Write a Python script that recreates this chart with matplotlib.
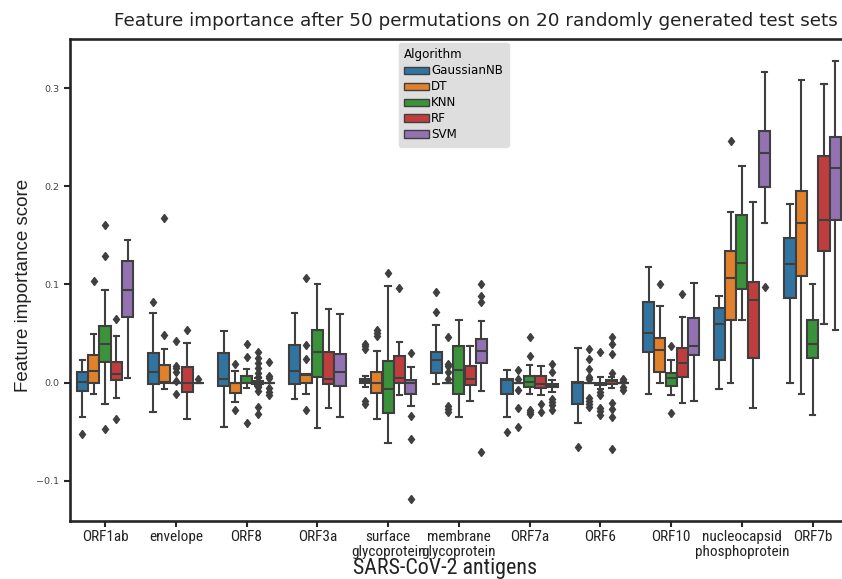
import matplotlib
matplotlib.use("Agg")
import matplotlib.pyplot as plt
from matplotlib import font_manager
from matplotlib.patches import Patch

antigens = ["ORF1ab", "envelope", "ORF8", "ORF3a", "surface\nglycoprotein",
            "membrane\nglycoprotein", "ORF7a", "ORF6", "ORF10",
            "nucleocapsid\nphosphoprotein", "ORF7b"]
algorithms = ["GaussianNB", "DT", "KNN", "RF", "SVM"]
colors = ["#3274a1", "#e1812c", "#3a923a", "#c03d3e", "#9372b2"]

# rows = antigens, columns = algorithms
whisker_low = [
    [-0.035, -0.011, -0.022, -0.016, 0.005],
    [-0.030, -0.006, 0.0, -0.037, 0.0],
    [-0.045, -0.020, -0.005, -0.003, 0.0],
    [-0.017, -0.012, -0.046, -0.026, -0.035],
    [-0.0045, -0.037, -0.061, -0.013, -0.024],
    [-0.0013, 0.0, -0.035, -0.019, -0.008],
    [-0.035, 0.0, -0.011, -0.0125, -0.0095],
    [-0.041, 0.0, -0.006, -0.0057, 0.0],
    [-0.012, 0.0, -0.0125, -0.021, -0.019],
    [-0.006, 0.0, 0.064, -0.026, 0.163],
    [0.0, -0.0115, -0.033, 0.060, 0.054],
]
q1 = [
    [-0.008, 0.0, 0.021, 0.003, 0.067],
    [-0.001, 0.0, 0.0, -0.009, 0.0],
    [-0.003, -0.010, 0.0, -0.0013, 0.0],
    [-0.001, 0.0, 0.0055, -0.001, -0.003],
    [-0.0006, -0.010, -0.031, -0.0006, -0.012],
    [0.010, 0.0, -0.012, -0.002, 0.020],
    [-0.012, 0.0, -0.0047, -0.005, -0.0047],
    [-0.022, 0.0, -0.0027, -0.0013, 0.0],
    [0.0315, 0.011, -0.003, 0.0055, 0.028],
    [0.023, 0.0635, 0.095, 0.025, 0.199],
    [0.086, 0.109, 0.025, 0.134, 0.166],
]
medians = [
    [0.001, 0.012, 0.039, 0.009, 0.094],
    [0.011, 0.001, 0.0, 0.0, 0.0],
    [0.0035, 0.0, 0.0, 0.0007, 0.0],
    [0.012, 0.008, 0.031, 0.0035, 0.011],
    [0.0017, 0.0, -0.006, 0.0045, 0.0],
    [0.023, 0.0, 0.0125, 0.0035, 0.032],
    [0.0025, 0.0, 0.0007, -0.001, -0.0023],
    [0.0, 0.0, -0.0013, 0.0017, 0.0],
    [0.051, 0.033, 0.0045, 0.020, 0.037],
    [0.060, 0.1065, 0.1215, 0.084, 0.2334],
    [0.121, 0.163, 0.039, 0.1655, 0.219],
]
q3 = [
    [0.011, 0.028, 0.058, 0.021, 0.124],
    [0.030, 0.018, 0.0, 0.016, 0.0],
    [0.030, 0.0, 0.0065, 0.002, 0.0],
    [0.038, 0.0085, 0.054, 0.031, 0.029],
    [0.0038, 0.011, 0.022, 0.027, 0.0027],
    [0.031, 0.0, 0.037, 0.017, 0.045],
    [0.004, 0.0, 0.007, 0.0065, -0.001],
    [0.001, 0.0, 0.0, 0.0027, 0.0],
    [0.082, 0.046, 0.010, 0.035, 0.066],
    [0.076, 0.134, 0.171, 0.103, 0.256],
    [0.147, 0.195, 0.064, 0.231, 0.250],
]
whisker_high = [
    [0.023, 0.050, 0.094, 0.048, 0.145],
    [0.071, 0.034, 0.0, 0.040, 0.0],
    [0.053, 0.012, 0.014, 0.005, 0.0],
    [0.071, 0.0085, 0.100, 0.075, 0.070],
    [0.007, 0.032, 0.098, 0.041, 0.016],
    [0.059, 0.0, 0.064, 0.037, 0.063],
    [0.0125, 0.0, 0.018, 0.017, 0.0027],
    [0.035, 0.0, 0.0058, 0.006, 0.0],
    [0.118, 0.078, 0.023, 0.067, 0.102],
    [0.088, 0.174, 0.221, 0.184, 0.316],
    [0.182, 0.308, 0.100, 0.304, 0.328],
]
outliers = [
    [[-0.052], [0.104], [0.161, 0.129, -0.047], [0.065, -0.037], []],
    [[0.082], [0.168, 0.049], [0.042, 0.017, 0.0145, 0.011, 0.002, -0.012], [0.054], [0.004]],
    [[], [0.019, -0.028], [0.039, 0.026, -0.041],
     [0.031, 0.0255, 0.020, 0.015, 0.010, 0.006, -0.004, -0.008, -0.025, -0.032],
     [0.021, 0.007, 0.0045, -0.005, -0.009, -0.013]],
    [[], [0.107, 0.038, 0.024, -0.028], [], [], []],
    [[0.039, 0.037, 0.034, -0.019, -0.022], [0.054, 0.051, 0.0475], [0.112], [0.096],
     [0.030, -0.034, -0.057, -0.118]],
    [[0.092, 0.072], [0.047, 0.019, 0.017, 0.011, 0.004, -0.024, -0.027, -0.030], [], [],
     [0.100, 0.0885, 0.082, -0.071]],
    [[-0.050], [0.0125, 0.0035, -0.007, -0.026, -0.045], [0.0465, 0.027, -0.028, -0.030, -0.032],
     [-0.022, -0.030], [0.019, 0.0106, -0.017, -0.0196, -0.0224, -0.0275]],
    [[-0.065], [0.034, 0.024, 0.014, 0.006, 0.0035, -0.0156, -0.0186, -0.0214, -0.0244],
     [0.031, -0.0098, -0.0125, -0.026, -0.029, -0.0325],
     [0.047, 0.039, 0.0295, 0.010, -0.021, -0.027, -0.035, -0.067],
     [0.004, 0.0014, -0.0047, -0.0074]],
    [[], [0.101], [0.037, -0.031], [0.090], []],
    [[], [0.2466], [], [], [0.097]],
    [[], [], [], [], []],
]

# the x axis texts of the original are in a condensed face
installed = {f.name for f in font_manager.fontManager.ttflist}
narrow, tick_size, xlabel_size = "Liberation Sans", 10.2, 14.5
for name, ts, xs in [("Liberation Sans Narrow", 12.0, 16.0), ("Roboto Condensed", 11.0, 15.8),
                     ("Open Sans Condensed", 11.0, 15.8)]:
    if name in installed:
        narrow, tick_size, xlabel_size = name, ts, xs
        break

gray = "#3f3f3f"
fig = plt.figure(figsize=(8.42, 5.79), dpi=100)
# axes run past the right edge, like the cropped original
ax = fig.add_axes([0.0827, 0.1007, 0.9245, 0.832])

n_hue = len(algorithms)
box_w = 0.8 / n_hue
for j, algo in enumerate(algorithms):
    stats = []
    for i in range(len(antigens)):
        stats.append(dict(whislo=whisker_low[i][j], q1=q1[i][j], med=medians[i][j],
                          q3=q3[i][j], whishi=whisker_high[i][j], fliers=outliers[i][j]))
    pos = [i - 0.4 + box_w * (j + 0.5) for i in range(len(antigens))]
    ax.bxp(stats, positions=pos, widths=box_w * 0.98, patch_artist=True,
           manage_ticks=False,
           boxprops=dict(facecolor=colors[j], edgecolor=gray, linewidth=1.5),
           medianprops=dict(color=gray, linewidth=1.5),
           whiskerprops=dict(color=gray, linewidth=1.5),
           capprops=dict(color=gray, linewidth=1.5),
           flierprops=dict(marker="d", markerfacecolor=gray, markeredgecolor=gray,
                           markersize=4.5, linestyle="none"))

ax.set_xlim(-0.5, len(antigens) - 0.5)
ax.set_ylim(-0.1405, 0.35)
ax.set_xticks(range(len(antigens)))
ax.set_xticklabels(antigens, fontfamily=narrow, fontsize=tick_size, color="#222222",
                   linespacing=1.05)
ax.set_yticks([-0.1, 0.0, 0.1, 0.2, 0.3])
ax.tick_params(axis="y", labelsize=6.8, labelcolor="#444444", length=4, width=1.5, color="#262626")
ax.tick_params(axis="x", length=4, width=1.5, color="#262626", pad=3)
for s in ax.spines.values():
    s.set_linewidth(1.9)
    s.set_color("#262626")

ax.set_xlabel("SARS-CoV-2 antigens", fontfamily=narrow, fontsize=xlabel_size, color="#222222")
ax.xaxis.set_label_coords(0.482, -0.0765)
ax.set_ylabel("Feature importance score", fontfamily="Liberation Sans", fontsize=13.5, color="#222222")
ax.yaxis.set_label_coords(-0.048, 0.489)

fig.text(476 / 842, 1 - 21 / 579,
         "Feature importance after 50 permutations on 20 randomly generated test sets",
         ha="center", va="center", fontsize=13.25, color="#222222")

handles = [Patch(facecolor=c, edgecolor=gray, linewidth=1) for c in colors]
leg = ax.legend(handles, algorithms, title="Algorithm", loc="upper left",
                bbox_to_anchor=(399 / 842, 1 - 43 / 579), bbox_transform=fig.transFigure,
                borderaxespad=0, fontsize=8.6, title_fontsize=8.6, handlelength=2.1,
                handleheight=0.55, handletextpad=0.15, labelspacing=0.25, borderpad=0.45,
                frameon=True, fancybox=True, facecolor="#dedede", edgecolor="#dedede",
                framealpha=1)
leg._legend_box.align = "left"

fig.savefig("out.png", dpi=100)
